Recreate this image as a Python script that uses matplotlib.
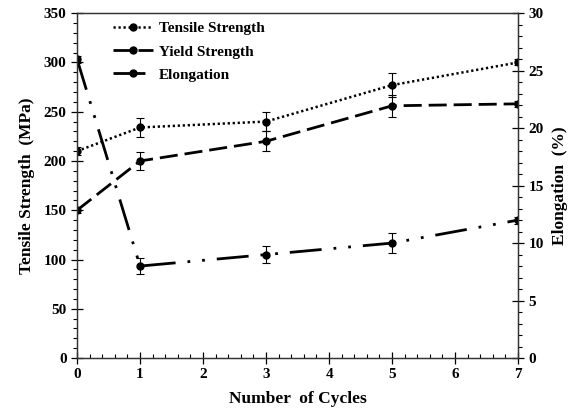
import matplotlib.pyplot as plt
from matplotlib.lines import Line2D
from matplotlib.ticker import MultipleLocator

plt.rcParams["font.family"] = ["Liberation Serif", "DejaVu Serif"]
plt.rcParams["font.weight"] = "bold"

cycles = [0, 1, 3, 5, 7]
tensile = [210, 234, 240, 277, 300]
tensile_err = [4, 10, 10, 12, 3]
yield_str = [150, 200, 220, 256, 258]
yield_err = [3, 9, 10, 11, 3]
elongation = [26.0, 8.0, 9.0, 10.0, 12.0]
elongation_err = [0.3, 0.7, 0.75, 0.85, 0.3]

labels = ["Tensile Strength", "Yield Strength", "Elongation"]
styles = [
    dict(lw=1.8, dashes=(0.9, 1.1), dash_capstyle="butt"),
    dict(lw=2, dashes=(6.5, 2.5)),
    dict(lw=2, dashes=(11.5, 4.3, 1, 4.3, 1, 4.3)),
]

fig = plt.figure(figsize=(5.75, 4.12), dpi=100)
ax = fig.add_axes([0.134, 0.131, 0.767, 0.837])
ax2 = ax.twinx()

err_kw = dict(ecolor="black", elinewidth=0.8, capsize=3, capthick=0.8)
ax.errorbar(cycles, tensile, yerr=tensile_err, color="black", marker="o", ms=5,
            **styles[0], **err_kw)
ax.errorbar(cycles, yield_str, yerr=yield_err, color="black", marker="o", ms=5,
            **styles[1], **err_kw)
ax2.errorbar(cycles, elongation, yerr=elongation_err, color="black", marker="o", ms=5,
             **styles[2], **err_kw)

ax.set_xlim(0, 7)
ax.set_ylim(0, 350)
ax2.set_ylim(0, 30)

ax.xaxis.set_major_locator(MultipleLocator(1))
ax.xaxis.set_minor_locator(MultipleLocator(0.2))
ax.yaxis.set_major_locator(MultipleLocator(50))
ax.yaxis.set_minor_locator(MultipleLocator(10))
ax2.yaxis.set_major_locator(MultipleLocator(5))
ax2.yaxis.set_minor_locator(MultipleLocator(1))

ax.tick_params(axis="both", which="major", direction="inout", length=8, width=0.9, labelsize=11)
ax.tick_params(axis="y", which="minor", direction="out", length=3, width=0.8)
ax.tick_params(axis="x", which="minor", direction="in", length=3, width=0.8)
ax2.tick_params(axis="y", which="major", direction="inout", length=8, width=0.9, labelsize=11)
ax2.tick_params(axis="y", which="minor", direction="out", length=3, width=0.8)
for a in (ax, ax2):
    for s in a.spines.values():
        s.set_color("#333333")
        s.set_linewidth(0.9)

ax.set_xlabel("Number  of Cycles", fontsize=12.5, fontweight="bold", labelpad=7)
ax.set_ylabel("Tensile Strength  (MPa)", fontsize=12.5, fontweight="bold", labelpad=6)
ax2.set_ylabel("Elongation  (%)", fontsize=12.5, fontweight="bold", labelpad=6)

handles = [Line2D([], [], color="black", marker="o", ms=5, **st) for st in styles]
ax.legend(handles, labels, loc="upper left", bbox_to_anchor=(0.05, 1.015), frameon=False,
          handlelength=2.6, handletextpad=0.4, fontsize=11, labelspacing=0.62)

fig.savefig("out.png", dpi=100)
